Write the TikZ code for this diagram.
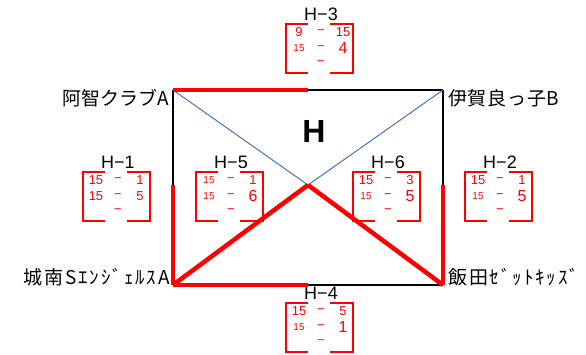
\documentclass[tikz,border=0pt]{standalone}
\usepackage{fontspec}
\setmainfont{Liberation Sans}
\newfontfamily\jpfont{Noto Sans CJK JP}
\newfontfamily\jpwide[LetterSpace=10]{Noto Sans CJK JP}
\newfontfamily\jpmid[LetterSpace=4]{Noto Sans CJK JP}
\definecolor{linkblue}{RGB}{68,114,196}
\definecolor{scorered}{RGB}{255,0,0}
\newcommand\sS{\fontsize{10}{11}\selectfont}
\newcommand\sM{\fontsize{13}{14}\selectfont}
\newcommand\sL{\fontsize{16}{17}\selectfont}
\tikzset{
  thinedge/.style={line width=1.5pt, black},
  winedge/.style={line width=4.5pt, scorered},
  diagline/.style={line width=1pt, linkblue},
  bracket/.style={line width=2.2pt, scorered},
  team/.style={font=\jpfont\fontsize{19}{21}\selectfont, inner sep=0pt},
  teammid/.style={font=\jpmid\fontsize{19}{21}\selectfont, inner sep=0pt},
  teamwide/.style={font=\jpwide\fontsize{19}{21}\selectfont, inner sep=0pt},
  hlabel/.style={font=\fontsize{18}{19}\selectfont, inner sep=0pt},
  score/.style={text=scorered, inner sep=0pt},
}
\newcommand\scorebox[8]{%
  \coordinate (#1) at (#2,#3);
  \node[hlabel] (#1-lab) at ({#2+35},{#3-10}) {#4};
  \draw[bracket] ({#2+22},#3) -- (#2,#3) -- (#2,{#3+49}) -- ({#2+22},{#3+49});
  \draw[bracket] ({#2+44},#3) -- ({#2+67},#3) -- ({#2+67},{#3+49}) -- ({#2+44},{#3+49});
  \node[score] (#1-l1) at ({#2+13},{#3+8}) {#5};
  \node[score,font=\sM] (#1-d1) at ({#2+35},{#3+8}) {−};
  \node[score] (#1-r1) at ({#2+57},{#3+8}) {#6};
  \node[score] (#1-l2) at ({#2+13},{#3+24}) {#7};
  \node[score,font=\sM] (#1-d2) at ({#2+35},{#3+24}) {−};
  \node[score] (#1-r2) at ({#2+57},{#3+24}) {#8};
  \node[score,font=\sM] (#1-d3) at ({#2+35},{#3+39}) {−};
}
\begin{document}
\begin{tikzpicture}[x=1pt,y=-1pt]
\useasboundingbox (0,0) rectangle (586,355);
% score boxes
\scorebox{h3}{286}{24}{H−3}{\sM 9}{\sM 15}{\sS 15}{\sL 4}
\scorebox{h1}{83}{172}{H−1}{\sM 15}{\sM 1}{\sM 15}{\sM 5}
\scorebox{h5}{196}{172}{H−5}{\sS 15}{\sM 1}{\sS 15}{\sL 6}
\scorebox{h6}{353}{172}{H−6}{\sM 15}{\sM 3}{\sS 15}{\sL 5}
\scorebox{h2}{465}{172}{H−2}{\sM 15}{\sM 1}{\sS 15}{\sL 5}
\scorebox{h4}{286}{303}{H−4}{\sM 15}{\sM 5}{\sS 15}{\sL 1}
% frame points
\coordinate (TL) at (173,90);
\coordinate (TR) at (443,90);
\coordinate (BL) at (173,285);
\coordinate (BR) at (443,285);
\coordinate (C) at (308,185);
\coordinate (TM) at (308,90);
\coordinate (BM) at (308,285);
\coordinate (LM) at (173,185);
\coordinate (RM) at (443,185);
% thin edges
\draw[thinedge] (TM) -- (TR);
\draw[thinedge] (TL) -- (LM);
\draw[thinedge] (TR) -- (RM);
\draw[thinedge] (BM) -- (BR);
\draw[diagline] (TL) -- (C);
\draw[diagline] (TR) -- (C);
% winning edges
\draw[winedge] (TL) -- (TM);
\draw[winedge] (BL) -- (BM);
\draw[winedge] (LM) -- (BL);
\draw[winedge] (RM) -- (BR);
\draw[winedge] (C) -- (BL);
\draw[winedge] (C) -- (BR);
% labels
\node[font=\bfseries\fontsize{32}{32}\selectfont, inner sep=0pt] (hletter) at (314,131) {H};
\node[team, anchor=east] (teamA) at (169,98) {阿智クラブA};
\node[teammid, anchor=west] (teamB) at (448,98) {伊賀良っ子B};
\node[teamwide, anchor=east] (teamC) at (170,277) {城南SｴﾝｼﾞｪﾙｽA};
\node[teamwide, anchor=west] (teamD) at (448,277) {飯田ｾﾞｯﾄｷｯｽﾞ};
\end{tikzpicture}
\end{document}
